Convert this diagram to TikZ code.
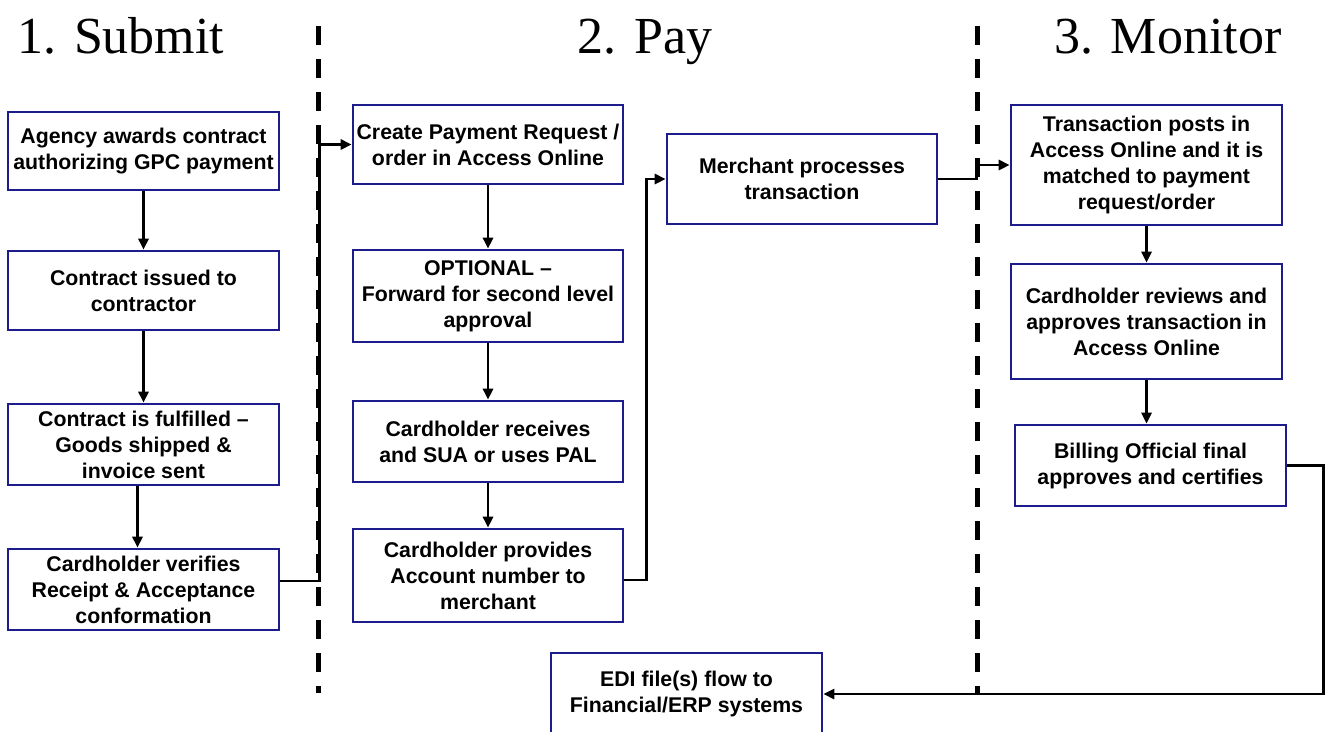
\documentclass[tikz,border=0pt]{standalone}
\usepackage{fontspec}
\setmainfont{Liberation Serif}
\setsansfont{Liberation Sans}
\usetikzlibrary{arrows.meta}
\definecolor{boxblue}{RGB}{28,28,140}
\tikzset{
  box/.style={draw=boxblue, line width=2.6pt, fill=white, align=center, inner sep=0pt,
    font=\sffamily\bfseries\fontsize{21.3}{26}\selectfont},
  conn/.style={line width=2.6pt, -{Triangle[length=11pt,width=10pt]}},
  divider/.style={line width=5pt, dash pattern=on 19pt off 14pt},
  title/.style={font=\fontsize{52}{60}\selectfont, anchor=base}
}
\newcommand{\bx}[6]{\node[box, minimum width=#4-#2, minimum height=#5-#3] (#1) at ({(#2+#4)/2},{(#3+#5)/2}) {#6};}
\begin{document}
\begin{tikzpicture}[x=1pt,y=-1pt]
\useasboundingbox[fill=white] (0,0) rectangle (1330,731);
\begin{scope}
\clip (0,0) rectangle (1330,731);
% titles
\node[title] (t1) at (121,53) {1. Submit};
\node[title] (t2) at (645,53) {2. Pay};
\node[title] (t3) at (1168,53) {3. Monitor};
% dividers
\coordinate (d1t) at (318,26); \coordinate (d1b) at (318,693);
\coordinate (d2t) at (977,26); \coordinate (d2b) at (977,693);
\draw[divider] (d1t) -- (d1b);
\draw[divider] (d2t) -- (d2b);
% column 1
\bx{A1}{8}{112}{279}{190}{Agency awards contract\\authorizing GPC payment}
\bx{A2}{8}{251}{279}{330}{Contract issued to\\contractor}
\bx{A3}{8}{404}{279}{485}{Contract is fulfilled –\\Goods shipped \&\\invoice sent}
\bx{A4}{8}{549}{279}{630}{Cardholder verifies\\Receipt \& Acceptance\\conformation}
% column 2
\bx{B1}{353}{105}{623}{184}{Create Payment Request /\\order in Access Online}
\bx{B2}{353}{250}{623}{342}{OPTIONAL –\\Forward for second level\\approval}
\bx{B3}{353}{401}{623}{482}{Cardholder receives\\and SUA or uses PAL}
\bx{B4}{353}{529}{623}{622}{Cardholder provides\\Account number to\\merchant}
\bx{B5}{667}{134}{937}{224}{Merchant processes\\transaction}
% column 3
\bx{C1}{1011}{105}{1282}{225}{Transaction posts in\\Access Online and it is\\matched to payment\\request/order}
\bx{C2}{1011}{264}{1282}{379}{Cardholder reviews and\\approves transaction in\\Access Online}
\bx{C3}{1015}{425}{1286}{506}{Billing Official final\\approves and certifies}
\node[box, minimum width=271, minimum height=82] (D) at (686.5,694) {EDI file(s) flow to\\Financial/ERP systems};
% connectors
\draw[conn] (A1.south) -- (A2.north);
\draw[conn] (A2.south) -- (A3.north);
\draw[conn] ([xshift=-6pt]A3.south) -- ([xshift=-6pt]A4.north);
\draw[conn] ([yshift=8.5pt]A4.east) -- ++(39,0) |- (B1.west);
\draw[conn] (B1.south) -- (B2.north);
\draw[conn] (B2.south) -- (B3.north);
\draw[conn] (B3.south) -- (B4.north);
\draw[conn] ([yshift=-4.5pt]B4.east) -- ++(22,0) |- (B5.west);
\draw[conn] (B5.east) -- ++(38,0) |- (C1.west);
\draw[conn] (C1.south) -- (C2.north);
\draw[conn] (C2.south) -- (C2.south |- C3.north);
\draw[conn] (C3.east) -- ++(36,0) |- (D.east);
\end{scope}
\end{tikzpicture}
\end{document}
